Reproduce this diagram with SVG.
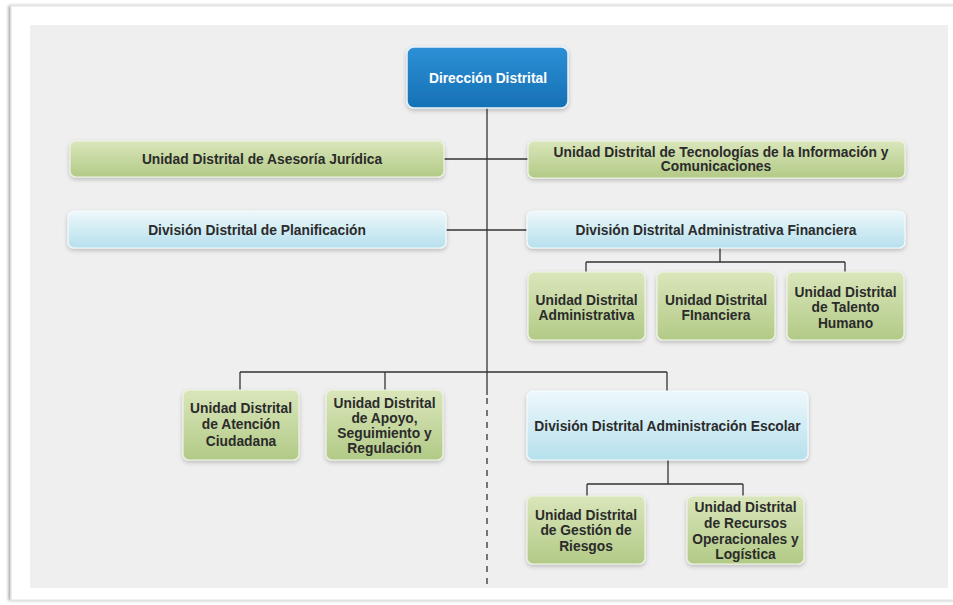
<svg xmlns="http://www.w3.org/2000/svg" width="953" height="605" viewBox="0 0 953 605">
<defs>
<linearGradient id="gGreen" x1="0" y1="0" x2="0" y2="1"><stop offset="0" stop-color="#dae6bb"/><stop offset="1" stop-color="#b2ca86"/></linearGradient>
<linearGradient id="gBlue" x1="0" y1="0" x2="0" y2="1"><stop offset="0" stop-color="#eef8fb"/><stop offset="1" stop-color="#b6e0ed"/></linearGradient>
<linearGradient id="gTop" x1="0" y1="0" x2="0" y2="1"><stop offset="0" stop-color="#2d90d6"/><stop offset="1" stop-color="#1670b4"/></linearGradient>
<filter id="sh" x="-10%" y="-20%" width="120%" height="150%"><feDropShadow dx="0" dy="2" stdDeviation="2" flood-color="#000" flood-opacity="0.22"/></filter>
<filter id="fr" x="-5%" y="-5%" width="110%" height="110%"><feDropShadow dx="-2" dy="0" stdDeviation="1.5" flood-color="#000" flood-opacity="0.35"/></filter>
</defs>
<style>
.g{fill:url(#gGreen);stroke:#eef3e2;stroke-width:1.2;filter:url(#sh)}
.b{fill:url(#gBlue);stroke:#f4fbfd;stroke-width:1.2;filter:url(#sh)}
.t{font-family:"Liberation Sans",Arial,Helvetica,sans-serif;font-weight:bold;font-size:13.8px;fill:#2b2b2b;text-anchor:middle}
.w{fill:#ffffff}
.ln{stroke:#333;stroke-width:1.3;fill:none}
</style>
<rect x="0" y="0" width="953" height="605" fill="#ffffff"/>
<rect x="11" y="6" width="950" height="594" fill="#ffffff" stroke="#e2e2e2" stroke-width="1" filter="url(#fr)"/>
<rect x="30" y="25" width="918" height="563" fill="#efefef"/>
<g id="connectors">
<path class="ln" d="M487 108 V395"/>
<path class="ln" d="M487 398 V590" stroke-dasharray="6 6"/>
<path class="ln" d="M444 159 H528"/>
<path class="ln" d="M446 230 H527"/>
<path class="ln" d="M720 248 V262 M586 262 H845 M586 262 V272 M845 262 V272"/>
<path class="ln" d="M240 372 H667 M240 372 V390 M385 372 V390 M667 372 V391"/>
<path class="ln" d="M668 460 V484 M587 484 H743 M587 484 V496 M743 484 V496"/>
</g>
<g id="n-direccion">
<rect x="407" y="47" width="161" height="61" rx="7" fill="url(#gTop)" stroke="#e6f1fa" stroke-width="1.5" filter="url(#sh)"/>
<text class="t w" x="488" y="83">Dirección Distrital</text>
</g>
<g id="n-juridica">
<rect class="g" x="70" y="141" width="374" height="36" rx="6"/>
<text class="t" x="262" y="164">Unidad Distrital de Asesoría Jurídica</text>
</g>
<g id="n-tic">
<rect class="g" x="528" y="141" width="377" height="37" rx="6"/>
<text class="t" x="721" y="157">Unidad Distrital de Tecnologías de la Información y</text>
<text class="t" x="716" y="171">Comunicaciones</text>
</g>
<g id="n-planificacion">
<rect class="b" x="68" y="211" width="378" height="37" rx="6"/>
<text class="t" x="257" y="235">División Distrital de Planificación</text>
</g>
<g id="n-admfin">
<rect class="b" x="527" y="211" width="378" height="37" rx="6"/>
<text class="t" x="716" y="235">División Distrital Administrativa Financiera</text>
</g>
<g id="n-administrativa">
<rect class="g" x="528" y="272" width="117" height="68" rx="6"/>
<text class="t" x="586.5" y="305">Unidad Distrital</text>
<text class="t" x="586.5" y="320">Administrativa</text>
</g>
<g id="n-financiera">
<rect class="g" x="657" y="272" width="118" height="68" rx="6"/>
<text class="t" x="716" y="305">Unidad Distrital</text>
<text class="t" x="716" y="320">FInanciera</text>
</g>
<g id="n-talento">
<rect class="g" x="787" y="272" width="117" height="68" rx="6"/>
<text class="t" x="845.5" y="297">Unidad Distrital</text>
<text class="t" x="845.5" y="312">de Talento</text>
<text class="t" x="845.5" y="328">Humano</text>
</g>
<g id="n-atencion">
<rect class="g" x="183" y="390" width="116" height="70" rx="6"/>
<text class="t" x="241" y="413">Unidad Distrital</text>
<text class="t" x="241" y="429">de Atención</text>
<text class="t" x="241" y="446">Ciudadana</text>
</g>
<g id="n-apoyo">
<rect class="g" x="326" y="390" width="117" height="70" rx="6"/>
<text class="t" x="384.5" y="408">Unidad Distrital</text>
<text class="t" x="384.5" y="423">de Apoyo,</text>
<text class="t" x="384.5" y="438">Seguimiento y</text>
<text class="t" x="384.5" y="453">Regulación</text>
</g>
<g id="n-escolar">
<rect class="b" x="527" y="391" width="281" height="69" rx="6"/>
<text class="t" x="667.5" y="431">División Distrital Administración Escolar</text>
</g>
<g id="n-riesgos">
<rect class="g" x="527" y="496" width="118" height="68" rx="6"/>
<text class="t" x="586" y="520">Unidad Distrital</text>
<text class="t" x="586" y="535">de Gestión de</text>
<text class="t" x="586" y="551">Riesgos</text>
</g>
<g id="n-recursos">
<rect class="g" x="687" y="496" width="117" height="68" rx="6"/>
<text class="t" x="745.5" y="512">Unidad Distrital</text>
<text class="t" x="745.5" y="528">de Recursos</text>
<text class="t" x="745.5" y="544">Operacionales y</text>
<text class="t" x="745.5" y="559">Logística</text>
</g>
</svg>
